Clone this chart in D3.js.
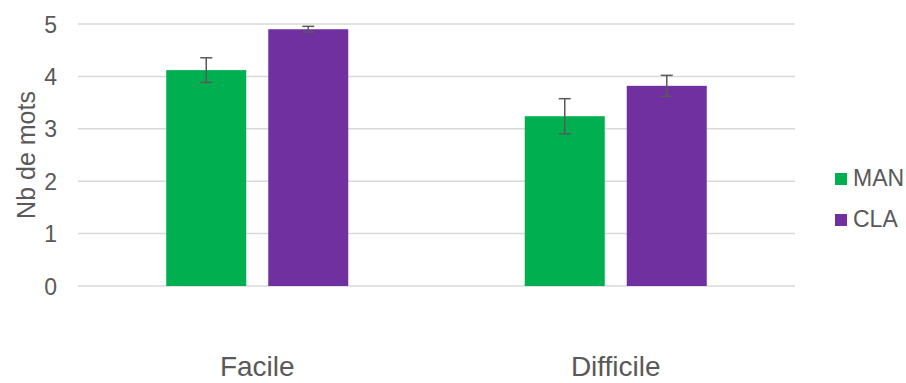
<!DOCTYPE html>
<html><head><meta charset="utf-8">
<script src="https://cdn.jsdelivr.net/npm/d3@7"></script>
<style>body{margin:0;background:#fff}svg{display:block}text{font-family:"Liberation Sans",Arial,sans-serif;fill:#595959}</style>
</head><body><svg id="c" width="906" height="383"></svg>
<script>
const categories = ["Facile", "Difficile"];
const seriesNames = ["MAN", "CLA"];
const manValues = [4.12, 3.24];
const claValues = [4.90, 3.82];
const manErrors = [0.235, 0.335];
const claErrors = [0.055, 0.20];
const yTicks = [0, 1, 2, 3, 4, 5];
const colors = ["#00B050", "#7030A0"];

const svg = d3.select("#c");
const x0 = d3.scaleBand().domain(categories).range([78, 795]).paddingInner(0).paddingOuter(0);
const y = d3.scaleLinear().domain([0, 5]).range([286, 24]);
const barW = 80, gap = 22;

// gridlines
svg.append("g").selectAll("line").data(yTicks).join("line")
  .attr("x1", 78).attr("x2", 795)
  .attr("y1", d => y(d)).attr("y2", d => y(d))
  .attr("stroke", "#d9d9d9").attr("stroke-width", 1.5);

// y axis labels
const yAxis = d3.axisLeft(y).tickValues(yTicks).tickSize(0).tickPadding(0).tickFormat(d3.format("d"));
const ga = svg.append("g").attr("transform", "translate(57,0)").call(yAxis);
ga.select(".domain").remove();
ga.selectAll("text").attr("font-size", 23).style("fill", "#595959").attr("font-family", "Liberation Sans, Arial, sans-serif").attr("dy", "0.35em");

// y title
svg.append("text").attr("transform", "translate(35,155) rotate(-90)")
  .attr("text-anchor", "middle").attr("font-size", 25).text("Nb de mots");

const data = [];
categories.forEach((c, i) => {
  data.push({ cat: c, s: "MAN", v: manValues[i], e: manErrors[i] });
  data.push({ cat: c, s: "CLA", v: claValues[i], e: claErrors[i] });
});

const bx = d => x0(d.cat) + x0.bandwidth() / 2 + (d.s === "MAN" ? -(gap / 2 + barW) : gap / 2);
svg.append("g").selectAll("rect").data(data).join("rect")
  .attr("x", bx).attr("width", barW)
  .attr("y", d => y(d.v)).attr("height", d => y(0) - y(d.v))
  .attr("fill", d => colors[seriesNames.indexOf(d.s)]);

// error bars
const eg = svg.append("g").attr("stroke", "#595959").attr("stroke-width", 1.5);
data.forEach(d => {
  const cx = bx(d) + barW / 2;
  eg.append("line").attr("x1", cx).attr("x2", cx).attr("y1", y(d.v + d.e)).attr("y2", y(d.v - d.e));
  eg.append("line").attr("x1", cx - 6).attr("x2", cx + 6).attr("y1", y(d.v + d.e)).attr("y2", y(d.v + d.e));
  eg.append("line").attr("x1", cx - 6).attr("x2", cx + 6).attr("y1", y(d.v - d.e)).attr("y2", y(d.v - d.e));
});

// category labels
svg.append("g").selectAll("text").data(categories).join("text")
  .attr("x", d => x0(d) + x0.bandwidth() / 2).attr("y", 376)
  .attr("text-anchor", "middle").attr("font-size", 28).text(d => d);

// legend
const lg = svg.append("g").selectAll("g").data(seriesNames).join("g")
  .attr("transform", (d, i) => `translate(835,${173 + i * 41})`);
lg.append("rect").attr("width", 12).attr("height", 12).attr("fill", (d, i) => colors[i]);
lg.append("text").attr("x", 18).attr("y", 13).attr("font-size", 23).text(d => d);
</script></body></html>
